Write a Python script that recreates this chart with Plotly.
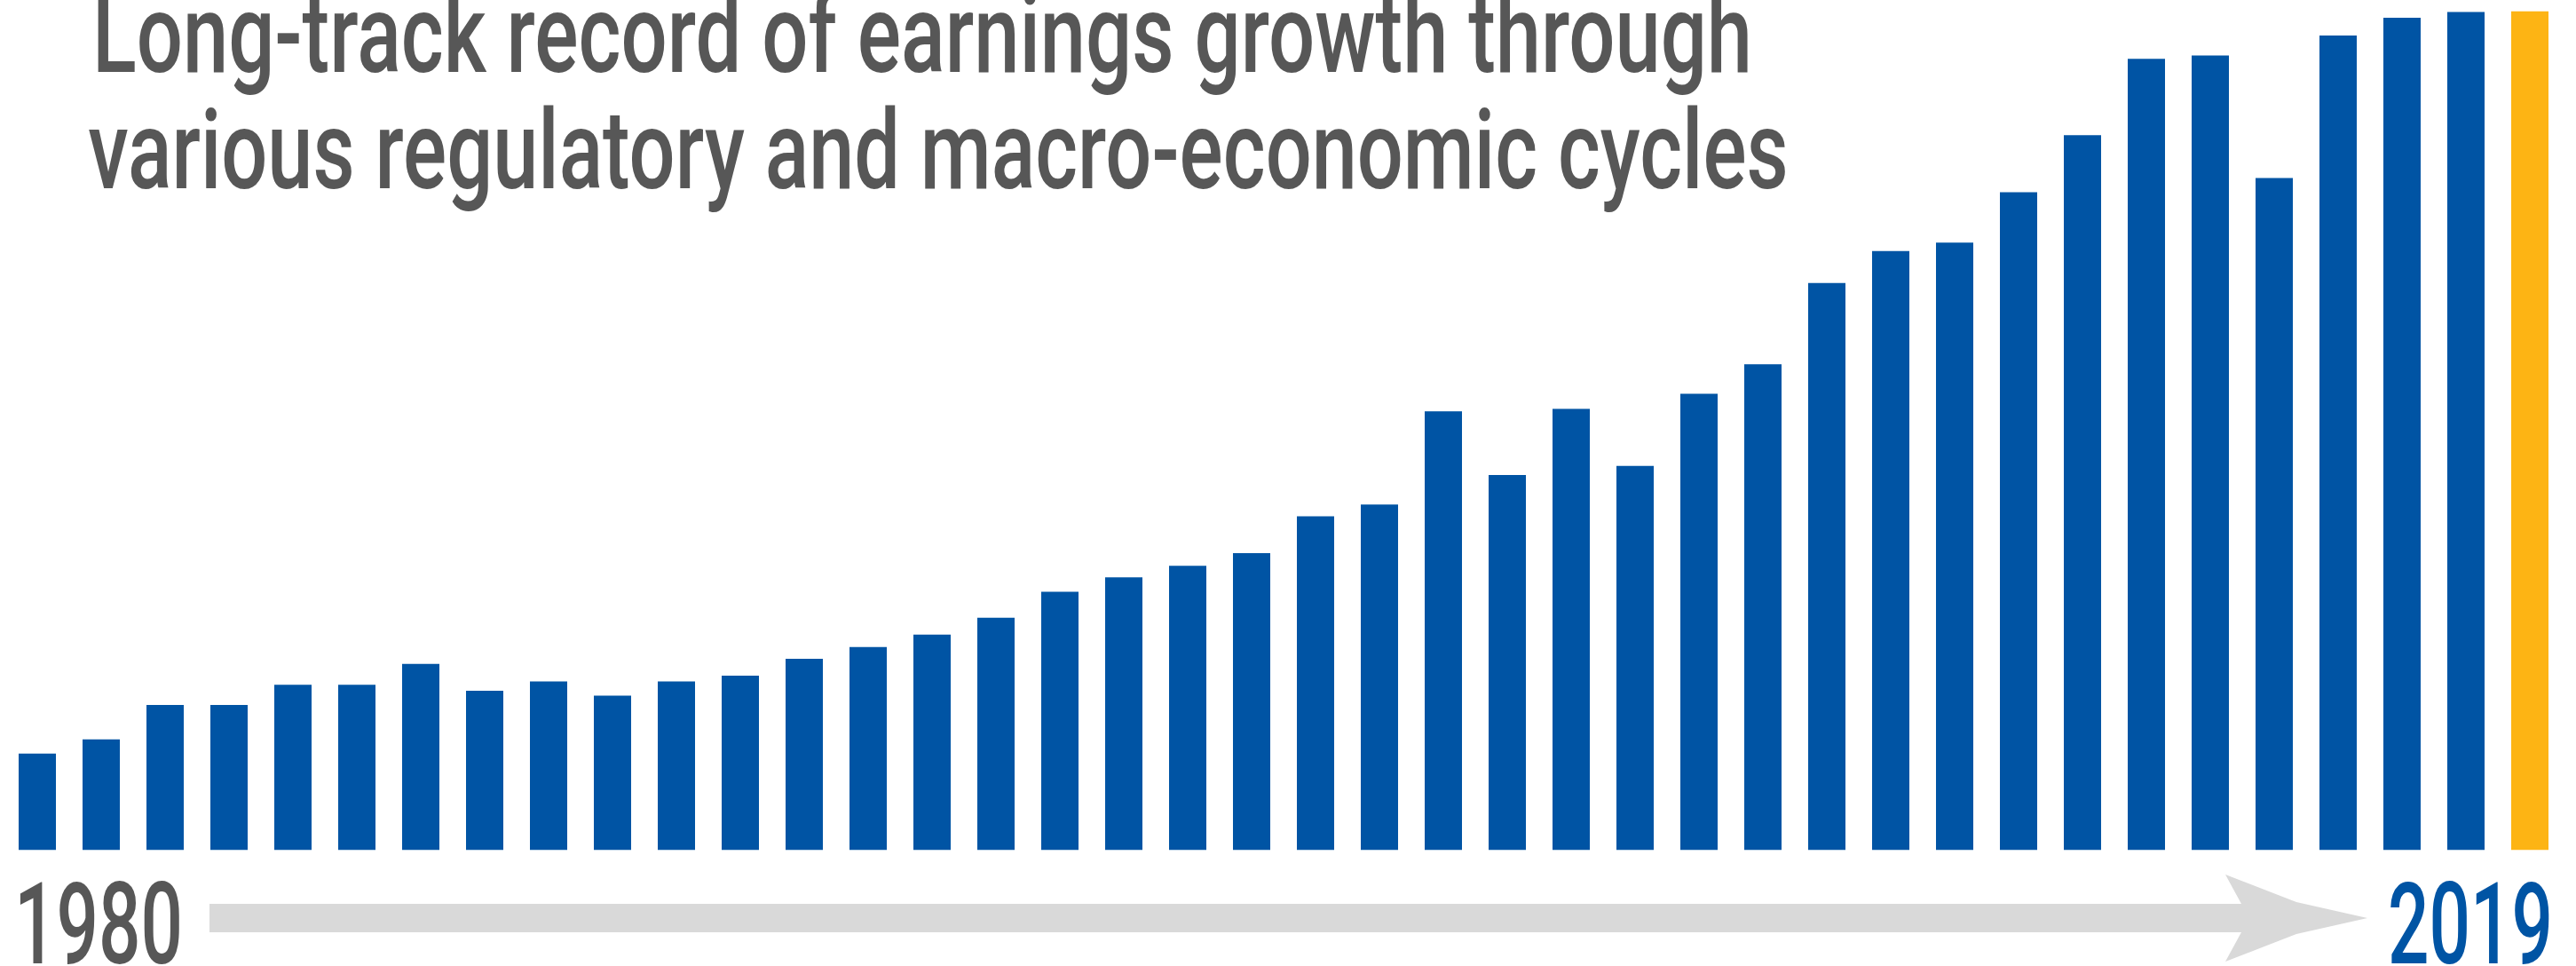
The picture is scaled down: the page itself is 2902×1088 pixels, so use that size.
import plotly.graph_objects as go

# Earnings index by year (2019 = 100)
years = list(range(1980, 2020))
earnings_index = [
    11.5, 13.2, 17.3, 17.3, 19.7, 19.7, 22.2, 19.0, 20.1, 18.4,
    20.1, 20.8, 22.8, 24.2, 25.7, 27.7, 30.8, 32.5, 33.9, 35.4,
    39.8, 41.2, 52.3, 44.7, 52.6, 45.8, 54.4, 57.9, 67.6, 71.4,
    72.4, 78.4, 85.2, 94.3, 94.7, 80.1, 97.1, 99.2, 99.9, 100.0,
]
title_lines = [
    "Long-track record of earnings growth through",
    "various regulatory and macro-economic cycles",
]
start_label = "1980"
end_label = "2019"

W, H = 2902, 1088
BLUE = "#0054A4"
ORANGE = "#FDB414"
GREY_TEXT = "#575757"
ARROW_GREY = "#D9D9D9"
FONT = "Roboto, sans-serif"
WEIGHT = 500

bar_colors = [BLUE] * (len(years) - 1) + [ORANGE]

fig = go.Figure(
    go.Bar(
        x=years,
        y=earnings_index,
        width=0.5833,
        marker=dict(color=bar_colors, line=dict(width=0)),
        hoverinfo="x+y",
    )
)


def px(x, y):
    """Pixel position -> paper coordinates (margins are zero)."""
    return x / W, 1 - y / H


# Timeline arrow under the bars
arrow_pts = [
    (236, 1018), (2525, 1018), (2507, 985), (2587, 1016), (2667, 1034),
    (2587, 1052), (2507, 1083), (2525, 1050), (236, 1050),
]
path = "M " + " L ".join("{:.5f},{:.5f}".format(*px(x, y)) for x, y in arrow_pts) + " Z"
fig.add_shape(
    type="path", path=path, xref="paper", yref="paper",
    fillcolor=ARROW_GREY, line=dict(width=0), layer="below",
)

annotations = []
# Two-line headline at the top left
for text, top_px, left_px in zip(title_lines, [-37, 94], [102, 97]):
    annotations.append(dict(
        text=text, xref="paper", yref="paper",
        x=left_px / W, y=1 - top_px / H, xanchor="left", yanchor="top",
        showarrow=False,
        font=dict(family=FONT, size=125, color=GREY_TEXT, weight=WEIGHT),
    ))

# Period labels at either end of the timeline
annotations.append(dict(
    text=start_label, xref="x", yref="paper", x=years[0], xshift=-28,
    y=1 - 964 / H, xanchor="left", yanchor="top", showarrow=False,
    font=dict(family=FONT, size=128, color=GREY_TEXT, weight=WEIGHT),
))
annotations.append(dict(
    text=end_label, xref="x", yref="paper", x=years[-1], xshift=28,
    y=1 - 964 / H, xanchor="right", yanchor="top", showarrow=False,
    font=dict(family=FONT, size=128, color=BLUE, weight=WEIGHT),
))

bar_px = 72.0
x0 = years[0] - 42 / bar_px
x1 = x0 + W / bar_px

fig.update_layout(
    width=W, height=H,
    margin=dict(l=0, r=0, t=0, b=0, pad=0),
    paper_bgcolor="white", plot_bgcolor="white",
    showlegend=False,
    annotations=annotations,
    xaxis=dict(range=[x0, x1], visible=False, fixedrange=True),
    yaxis=dict(range=[0, 100], domain=[(H - 957.5) / H, (H - 12.5) / H],
               visible=False, fixedrange=True),
)

# Condensed lettering: squeeze each label horizontally to its set width,
# pivoting on the edge it is anchored to.
squeeze_js = """
(function () {
  var gd = document.getElementById('{plot_id}');
  var widths = {0: [1870, 'left'], 1: [1916, 'left'], 2: [190, 'left'], 3: [186, 'right']};
  function squeeze() {
    gd.querySelectorAll('g.annotation').forEach(function (g) {
      var spec = widths[g.getAttribute('data-index')];
      if (!spec) return;
      var t = g.querySelector('text.annotation-text');
      if (!t) return;
      if (t.dataset.baseTransform === undefined) t.dataset.baseTransform = t.getAttribute('transform') || '';
      t.setAttribute('transform', t.dataset.baseTransform);
      var bb = t.getBBox();
      if (!bb.width) return;
      var s = spec[0] / bb.width;
      var p = spec[1] === 'left' ? bb.x : bb.x + bb.width;
      t.setAttribute('transform', t.dataset.baseTransform +
        ' translate(' + p + ',0) scale(' + s + ',1) translate(' + (-p) + ',0)');
    });
  }
  if (gd.on) gd.on('plotly_afterplot', squeeze);
  squeeze();
  setTimeout(squeeze, 50);
  if (document.fonts && document.fonts.ready) document.fonts.ready.then(squeeze);
})();
"""

fig.write_html("out.html", config={"displayModeBar": False}, post_script=squeeze_js)
